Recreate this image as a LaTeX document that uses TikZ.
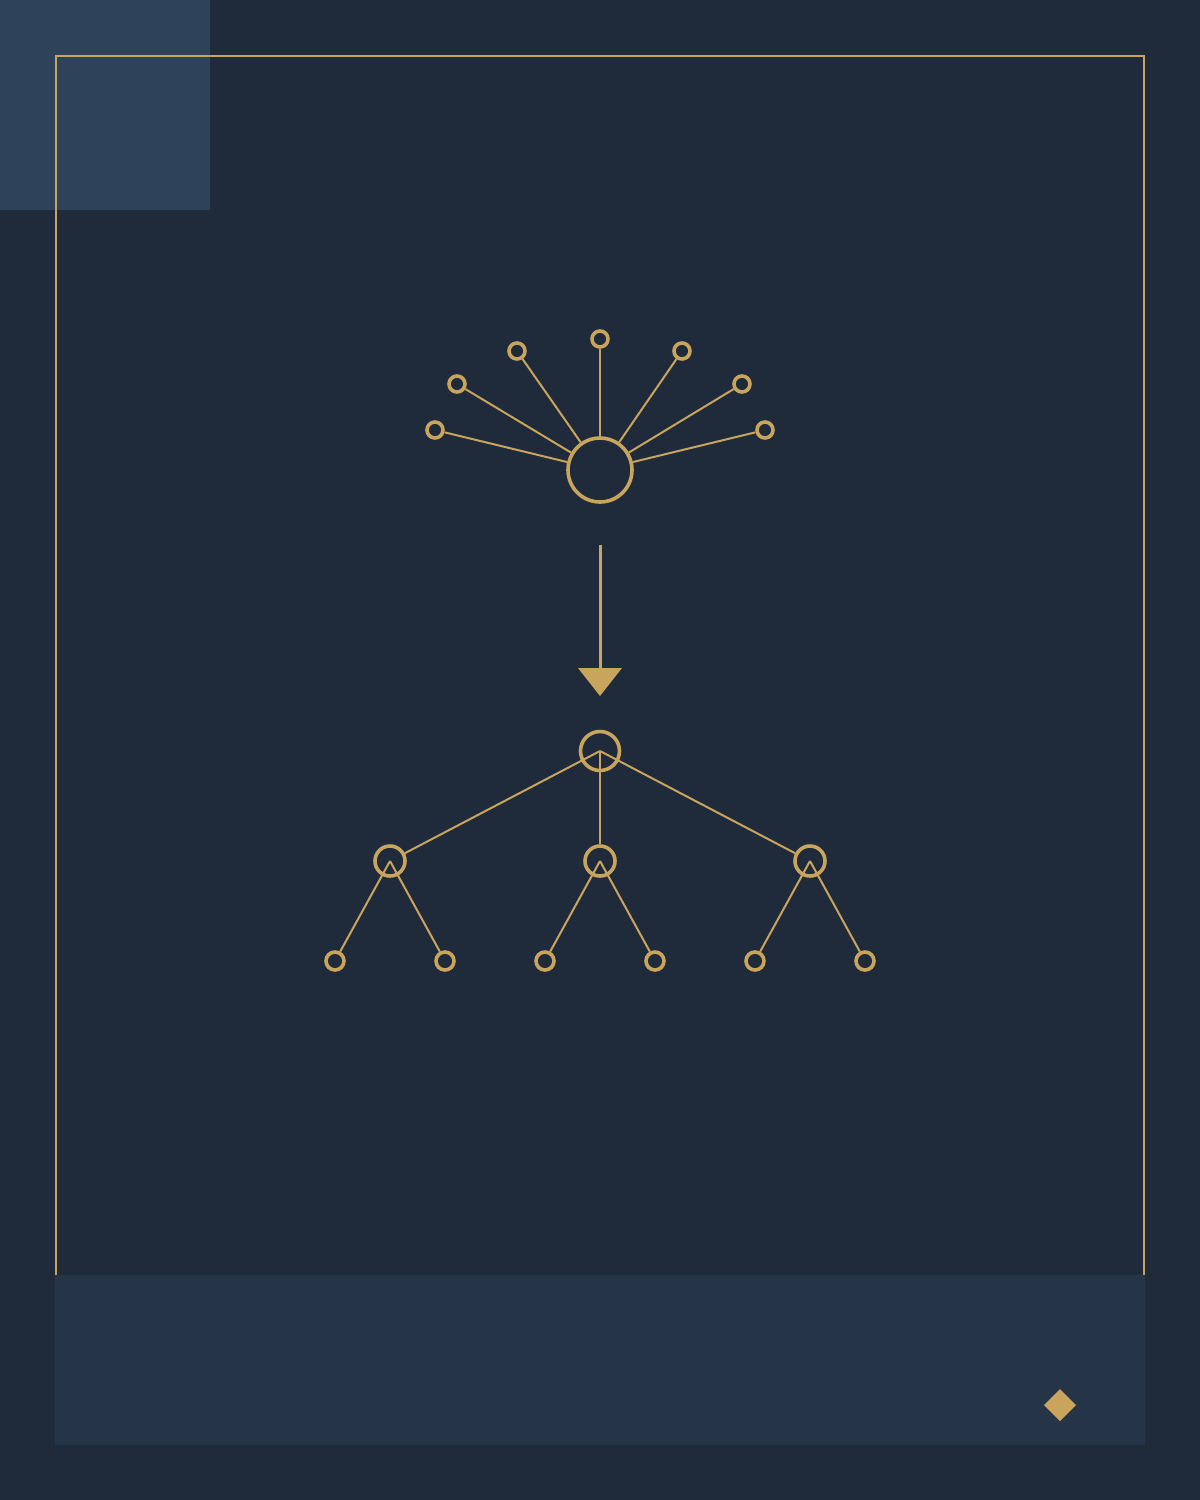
\documentclass[tikz,border=0pt]{standalone}
\usetikzlibrary{positioning}
\definecolor{bgnavy}{HTML}{1F2A3B}
\definecolor{cornerblue}{HTML}{2E4259}
\definecolor{panelblue}{HTML}{263447}
\definecolor{gold}{HTML}{C9A45C}
\tikzset{
	dot/.style={circle, draw=gold, line width=3.6pt, inner sep=0pt, minimum size=#1},
	spoke/.style={draw=gold, line width=2pt},
}
\begin{document}
\begin{tikzpicture}[x=1pt, y=-1pt]
		\useasboundingbox (0,0) rectangle (1200,1500);
		\fill[bgnavy] (0,0) rectangle (1200,1500);
		\fill[cornerblue] (0,0) rectangle (210,210);
		\draw[line width=2pt, gold] (56,56) rectangle (1144,1300);
		\fill[panelblue] (55,1275) rectangle (1145,1445);
		\fill[gold] (1060,1389) -- (1076,1405) -- (1060,1421) -- (1044,1405) -- cycle;
		% fan
		\node[dot=64pt] (hub) at (600,470) {};
		\node[dot=16pt] (s1) at (435,430) {};
		\node[dot=16pt] (s2) at (457,384) {};
		\node[dot=16pt] (s3) at (517,351) {};
		\node[dot=16pt] (s4) at (600,339) {};
		\node[dot=16pt] (s5) at (682,351) {};
		\node[dot=16pt] (s6) at (742,384) {};
		\node[dot=16pt] (s7) at (765,430) {};
		\foreach \s in {s1,s2,s3,s4,s5,s6,s7}
			\draw[spoke] (hub) -- (\s);
		% arrow
		\coordinate (top) at (600,545);
		\coordinate (tip) at (600,668);
		\draw[line width=3pt, gold] (top) -- (tip);
		\fill[gold] (578,668) -- (622,668) -- (600,696) -- cycle;
		% tree
		\node[dot=39pt] (root) at (600,751) {};
		\node[dot=30pt] (ca) at (390,861) {};
		\node[dot=30pt] (cb) at (600,861) {};
		\node[dot=30pt] (cc) at (810,861) {};
		\node[dot=18pt] (la) at (335,961) {};
		\node[dot=18pt] (lb) at (445,961) {};
		\node[dot=18pt] (lc) at (545,961) {};
		\node[dot=18pt] (ld) at (655,961) {};
		\node[dot=18pt] (le) at (755,961) {};
		\node[dot=18pt] (lf) at (865,961) {};
		\foreach \c in {ca,cb,cc}
			\draw[spoke] (root.center) -- (\c);
		\draw[spoke] (ca.center) -- (la);
		\draw[spoke] (ca.center) -- (lb);
		\draw[spoke] (cb.center) -- (lc);
		\draw[spoke] (cb.center) -- (ld);
		\draw[spoke] (cc.center) -- (le);
		\draw[spoke] (cc.center) -- (lf);
	\end{tikzpicture}
\end{document}
